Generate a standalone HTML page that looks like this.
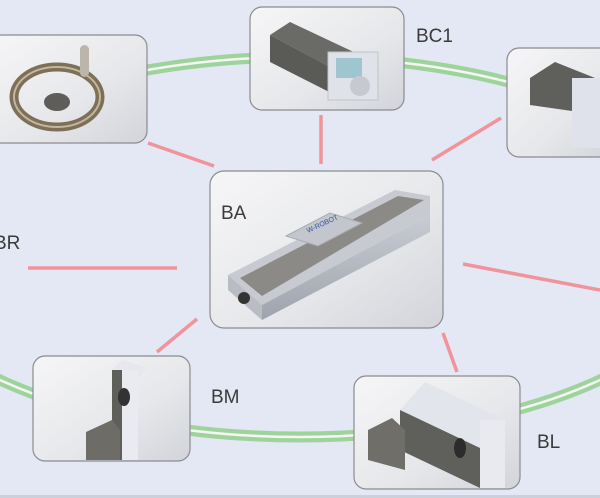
<!DOCTYPE html>
<html><head><meta charset="utf-8"><style>
html,body{margin:0;padding:0;background:#e4e8f5;}
svg{display:block;font-family:"Liberation Sans","DejaVu Sans",sans-serif;}
</style></head><body>
<svg width="600" height="498" viewBox="0 0 600 498" xmlns="http://www.w3.org/2000/svg">
<defs>
<linearGradient id="g" x1="0" y1="0" x2="1" y2="1">
<stop offset="0" stop-color="#f6f6f7"/><stop offset="0.6" stop-color="#e6e7ea"/><stop offset="1" stop-color="#d2d4da"/>
</linearGradient>
<linearGradient id="al" x1="0" y1="0" x2="0" y2="1">
<stop offset="0" stop-color="#c9ccd3"/><stop offset="1" stop-color="#9ea3ad"/>
</linearGradient>
</defs>
<rect width="600" height="498" fill="#e4e8f5"/>
<ellipse cx="300" cy="247" rx="420" ry="190" fill="none" stroke="#9ed49c" stroke-width="11"/>
<ellipse cx="300" cy="247" rx="420" ry="190" fill="none" stroke="#f4f6f4" stroke-width="2.5"/>
<g stroke="#f0939a" stroke-width="3.5">
<line x1="148" y1="143" x2="214" y2="166"/>
<line x1="321" y1="115" x2="321" y2="164"/>
<line x1="432" y1="160" x2="501" y2="118"/>
<line x1="28" y1="268" x2="177" y2="268"/>
<line x1="463" y1="264" x2="600" y2="290"/>
<line x1="157" y1="352" x2="197" y2="319"/>
<line x1="443" y1="333" x2="457" y2="372"/>
</g>
<g stroke="#8a8c90" stroke-width="1.2" fill="url(#g)">
<rect x="-10" y="35" width="157" height="108" rx="12"/>
<rect x="250" y="7" width="154" height="103" rx="12"/>
<rect x="507" y="48" width="110" height="109" rx="12"/>
<rect x="210" y="171" width="233" height="157" rx="14"/>
<rect x="33" y="356" width="157" height="105" rx="12"/>
<rect x="354" y="376" width="166" height="113" rx="12"/>
</g>
<!-- handwheel -->
<ellipse cx="57" cy="97" rx="43" ry="30" fill="none" stroke="#7d6f58" stroke-width="9"/>
<ellipse cx="57" cy="97" rx="43" ry="30" fill="none" stroke="#c2b69c" stroke-width="2"/>
<ellipse cx="57" cy="102" rx="13" ry="9" fill="#5f5d5a"/>
<rect x="80" y="45" width="9" height="32" rx="4.5" fill="#bcb6aa"/>
<!-- BC1 -->
<polygon points="270,35 290,22 360,55 345,75" fill="#6a6a66"/>
<polygon points="270,35 345,75 345,100 270,62" fill="#5a5a57"/>
<rect x="328" y="52" width="50" height="48" fill="#dfe2e8" stroke="#bfc3c9"/>
<rect x="336" y="58" width="26" height="20" fill="#9fc5cf"/>
<circle cx="360" cy="86" r="10" fill="#c6cad0"/>
<!-- right partial -->
<polygon points="530,78 555,62 600,80 600,115 530,105" fill="#5f5f5c"/>
<rect x="572" y="78" width="35" height="70" fill="#dfe2ea"/>
<!-- BA -->
<polygon points="228,275 395,190 430,196 430,215 262,305" fill="#c7cad0"/>
<polygon points="228,275 262,305 262,320 228,290" fill="#b9bcc3"/>
<polygon points="262,305 430,215 430,232 262,320" fill="url(#al)"/>
<polygon points="240,278 398,196 424,200 262,296" fill="#8b8a86"/>
<polygon points="286,236 330,213 362,223 318,246" fill="#c3c6cc" stroke="#a9acb2"/>
<text x="308" y="233" font-size="7" fill="#3050a0" transform="rotate(-25 308 233)">W-ROBOT</text>
<circle cx="244" cy="298" r="6" fill="#333"/>
<!-- BM -->
<polygon points="112,370 122,360 148,368 138,378" fill="#e6e8ee"/>
<rect x="112" y="370" width="26" height="90" fill="#5e5e5a"/>
<rect x="122" y="370" width="16" height="90" fill="#e9ebf0"/>
<ellipse cx="124" cy="397" rx="6" ry="9" fill="#333"/>
<polygon points="86,432 112,420 120,430 120,460 86,460" fill="#6d6c66"/>
<!-- BL -->
<polygon points="400,410 425,382 505,420 480,448" fill="#e3e5ec"/>
<polygon points="400,410 480,448 480,488 400,450" fill="#5f5f5b"/>
<rect x="480" y="420" width="25" height="68" fill="#e8eaf0"/>
<ellipse cx="460" cy="448" rx="6" ry="10" fill="#2c2c2c"/>
<polygon points="368,430 392,418 405,430 405,470 368,460" fill="#6f6e68"/>
<g font-size="19" fill="#3a3a3a">
<text x="416" y="42">BC1</text>
<text x="-6" y="249">BR</text>
<text x="221" y="219">BA</text>
<text x="211" y="403">BM</text>
<text x="537" y="448">BL</text>
</g>
<rect x="0" y="495" width="600" height="3" fill="#a8acb8" opacity="0.4"/>
</svg>
</body></html>
